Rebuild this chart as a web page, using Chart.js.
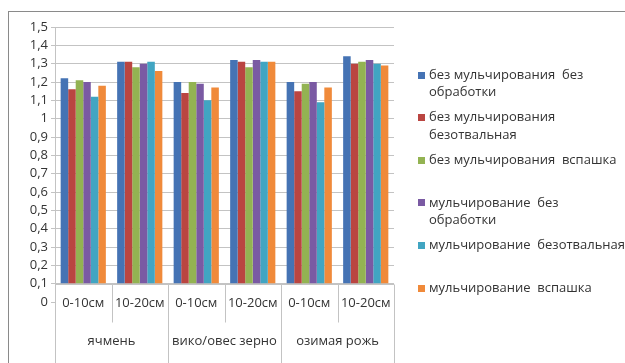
<!DOCTYPE html>
<html>
<head>
<meta charset="utf-8">
<script src="https://cdn.jsdelivr.net/npm/chart.js@4"></script>
<style>
  html, body { margin: 0; padding: 0; background: #ffffff; }
  #wrap { width: 625px; height: 363px; position: relative; }
</style>
</head>
<body>
<div id="wrap"><canvas id="chart" width="625" height="363"></canvas></div>
<script>
// Soil depth layers (inner category level) and crops (outer level)
const depths = ['0-10см', '10-20см', '0-10см', '10-20см', '0-10см', '10-20см'];
const crops = ['ячмень', 'вико/овес зерно', 'озимая рожь'];

// Density by treatment, one value per depth layer
const noMulchNoTill   = [1.22, 1.31, 1.20, 1.32, 1.20, 1.34];
const noMulchNoMould  = [1.16, 1.31, 1.14, 1.31, 1.15, 1.30];
const noMulchPlough   = [1.21, 1.28, 1.20, 1.28, 1.19, 1.31];
const mulchNoTill     = [1.20, 1.30, 1.19, 1.32, 1.20, 1.32];
const mulchNoMould    = [1.12, 1.31, 1.10, 1.31, 1.09, 1.30];
const mulchPlough     = [1.18, 1.26, 1.17, 1.31, 1.17, 1.29];

const seriesNames = [
  ['без мульчирования  без', 'обработки'],
  ['без мульчирования', 'безотвальная'],
  ['без мульчирования  вспашка'],
  ['мульчирование  без', 'обработки'],
  ['мульчирование  безотвальная'],
  ['мульчирование  вспашка']
];

// Y axis ticks and the level where the category axis crosses
const yMin = 0, yMax = 1.5, yStep = 0.1;
const axisCross = 0.1;

const colors = ['#4573B4', '#BA4541', '#93B352', '#7A5AA3', '#41A5C2', '#F08A3A'];
const seriesValues = [noMulchNoTill, noMulchNoMould, noMulchPlough, mulchNoTill, mulchNoMould, mulchPlough];

const FONT = '"Open Sans", sans-serif';
const TEXT = '#333333';
const GRID = '#c3c3c3';

const frame = {
  id: 'frame',
  beforeDraw(chart) {
    const c = chart.ctx;
    c.save();
    c.fillStyle = '#ffffff';
    c.fillRect(0, 0, chart.width, chart.height);
    c.strokeStyle = '#8a8a8a';
    c.lineWidth = 1;
    c.strokeRect(8.5, 11.5, 700, 500);
    c.restore();
  },
  afterDraw(chart) {
    const c = chart.ctx;
    const x = chart.scales.x, y = chart.scales.y;
    const area = chart.chartArea;
    const yc = Math.round(y.getPixelForValue(axisCross)) + 0.5;
    const n = depths.length;
    const w = (area.right - area.left) / n;
    c.save();
    c.strokeStyle = GRID;
    c.lineWidth = 1;
    // category axis line
    c.beginPath();
    c.moveTo(area.left, yc); c.lineTo(area.right, yc);
    c.stroke();
    // separators between depth layers and crops
    for (let i = 0; i <= n; i++) {
      const px = Math.round(area.left + i * w) + 0.5;
      const yEnd = (i % 2 === 0) ? chart.height : yc + 38;
      c.beginPath();
      c.moveTo(px, yc); c.lineTo(px, yEnd);
      c.stroke();
    }
    // labels
    c.fillStyle = TEXT;
    c.font = '13px ' + FONT;
    c.textAlign = 'center';
    c.textBaseline = 'middle';
    depths.forEach((d, i) => {
      c.fillText(d, x.getPixelForValue(i), 303);
    });
    crops.forEach((g, i) => {
      c.fillText(g, area.left + (2 * i + 1) * w, 341);
    });
    // legend
    c.textAlign = 'left';
    const ly0 = 75, pitch = 42.6, lh = 17.5;
    seriesNames.forEach((lines, i) => {
      const ly = ly0 + i * pitch;
      c.fillStyle = colors[i];
      c.fillRect(418, Math.round(ly - 3.5), 7, 7);
      c.fillStyle = TEXT;
      lines.forEach((t, k) => c.fillText(t, 429, ly + k * lh));
    });
    c.restore();
  }
};

new Chart(document.getElementById('chart'), {
  type: 'bar',
  data: {
    labels: depths,
    datasets: seriesValues.map((vals, i) => ({
      label: seriesNames[i].join(' '),
      data: vals,
      base: axisCross,
      backgroundColor: colors[i],
      borderWidth: 0,
      barPercentage: 1,
      categoryPercentage: 0.8
    }))
  },
  options: {
    responsive: false,
    animation: false,
    layout: { padding: { left: 8, top: 27, right: 231, bottom: 61 } },
    plugins: { legend: { display: false }, tooltip: { enabled: false } },
    scales: {
      x: { display: false },
      y: {
        min: yMin, max: yMax,
        afterFit(scale) { scale.width = 47; },
        ticks: {
          stepSize: yStep,
          autoSkip: false,
          padding: 3,
          color: TEXT,
          font: { family: FONT, size: 13 },
          callback: v => String(Math.round(v * 10) / 10).replace('.', ',')
        },
        grid: {
          color: ctx => (ctx.tick && ctx.tick.value === 0) ? 'rgba(0,0,0,0)' : GRID,
          tickColor: GRID,
          tickLength: 4
        },
        border: { color: GRID }
      }
    }
  },
  plugins: [frame]
});
</script>
</body>
</html>
